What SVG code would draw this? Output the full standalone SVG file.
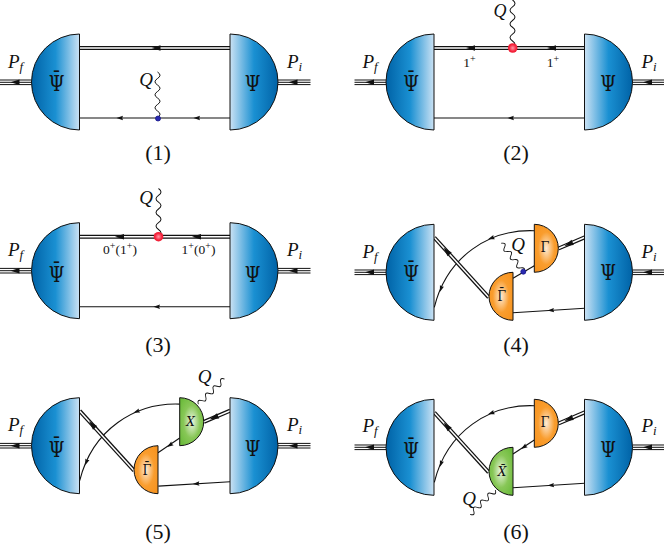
<svg xmlns="http://www.w3.org/2000/svg" width="664" height="548" viewBox="0 0 664 548">
<style>
text{font-family:"Liberation Serif","Times New Roman",serif;fill:#111;text-anchor:middle}
.m{font-style:italic;font-size:19px}
.cap{font-size:22px}
.psi{font-family:"DejaVu Serif",serif;font-size:23px}
.g{font-family:"DejaVu Serif",serif;font-size:15px}
.x{font-family:"DejaVu Serif",serif;font-size:12px;font-style:italic}
.s{font-size:13.500px}
.b{stroke:#111;stroke-width:1}
.l{fill:none;stroke:#111;stroke-width:1.100}
.w{fill:none;stroke:#111;stroke-width:1}
.d1{fill:none;stroke:#111;stroke-width:4}
.d2{fill:none;stroke:#fff;stroke-width:1.500}
.t{fill:none;stroke:#111;stroke-width:1}
</style>
<defs>
<linearGradient id="gl"><stop offset="0" stop-color="#0062a6"/><stop offset=".5" stop-color="#1a90d2"/><stop offset="1" stop-color="#cbe2f4"/></linearGradient>
<linearGradient id="gr"><stop offset="0" stop-color="#cbe2f4"/><stop offset=".5" stop-color="#1a90d2"/><stop offset="1" stop-color="#0062a6"/></linearGradient>
<radialGradient id="go" cx=".5" cy=".5" r=".62"><stop offset="0" stop-color="#fdebd6"/><stop offset=".55" stop-color="#f99d2e"/><stop offset="1" stop-color="#f7931e"/></radialGradient>
<radialGradient id="gg" cx=".5" cy=".5" r=".62"><stop offset="0" stop-color="#eef7e6"/><stop offset=".55" stop-color="#88c757"/><stop offset="1" stop-color="#6cbb3c"/></radialGradient>
<radialGradient id="gv"><stop offset="0" stop-color="#ff9aa8"/><stop offset=".7" stop-color="#f6253f"/><stop offset="1" stop-color="#ee1c30"/></radialGradient>
<path id="lb" class="b" fill="url(#gl)" d="M0-48A48 48 0 0 0 0 48Z"/>
<path id="rb" class="b" fill="url(#gr)" d="M0-48A48 48 0 0 1 0 48Z"/>
<path id="lo" class="b" fill="url(#go)" d="M0-24A24 24 0 0 0 0 24Z"/>
<path id="ro" class="b" fill="url(#go)" d="M0-24A24 24 0 0 1 0 24Z"/>
<path id="lg" class="b" fill="url(#gg)" d="M0-24A24 24 0 0 0 0 24Z"/>
<path id="rg" class="b" fill="url(#gg)" d="M0-24A24 24 0 0 1 0 24Z"/>
<path id="a" fill="#111" d="M-3.500 0L3-2.200Q1.400 0 3 2.200Z"/>
<path id="A" fill="#111" d="M-5 0L4-2.800V2.800Z"/>
<path id="wv" class="w" d="M0 0q3.250-5 6.500 0t6.500 0 6.500 0 6.500 0 6.500 0 6.500 0 6.500 0"/>
<g id="ext">
<path class="t" d="M-79.500-2.300H-48M-79.500 0H-48M-79.500 2.300H-48M198.500-2.300H231M198.500 0H231M198.500 2.300H231"/>
<use href="#A" x="-64"/><use href="#A" x="214"/>
</g>
</defs>
<rect width="664" height="548" fill="#fff"/>
<g id="connectors">
<use href="#ext" x="79.500" y="82.300"/>
<path class="d1" d="M79.500 48H230"/><path class="d2" d="M79.500 48H230"/><use href="#A" x="156.500" y="48"/>
<path class="l" d="M79.500 118H230"/><use href="#a" x="120" y="118"/><use href="#a" x="197" y="118"/>
<use href="#wv" transform="translate(157.500 72) rotate(90)"/>
<use href="#ext" x="434" y="82.300"/>
<path class="d1" d="M434 48H584.500"/><path class="d2" d="M434 48H584.500"/><use href="#A" x="471" y="48"/><use href="#A" x="552" y="48"/>
<path class="l" d="M434 118H584.500"/><use href="#a" x="511" y="118"/>
<use href="#wv" transform="translate(512.500 0) rotate(90) scale(1.050 1)"/>
<use href="#ext" x="79.500" y="270.700"/>
<path class="d1" d="M79.500 236.700H230"/><path class="d2" d="M79.500 236.700H230"/><use href="#A" x="120" y="236.700"/><use href="#A" x="197" y="236.700"/>
<path class="l" d="M79.500 306.700H230"/><use href="#a" x="157" y="306.700"/>
<use href="#wv" transform="translate(158.500 188.500) rotate(90) scale(1.050 1)"/>
<use href="#ext" x="434" y="272.300"/>
<path class="l" d="M534.300 230.700C490 229 447 256 434.300 307.300"/><use href="#a" transform="translate(491.300 238.100) rotate(-20)"/><use href="#a" transform="translate(441 288.600) rotate(-70)"/>
<path class="d1" d="M434.300 237.500L488.700 297.300"/><path class="d2" d="M434.300 237.500L488.700 297.300"/><use href="#A" transform="translate(447 251.500) rotate(48)"/>
<path class="d1" d="M558.500 248.500L584.700 237.300"/><path class="d2" d="M558.500 248.500L584.700 237.300"/><use href="#A" transform="translate(569 244) rotate(-23)"/>
<path class="l" d="M513 312.700L584.700 308.300"/><use href="#a" transform="translate(551 310.300) rotate(-4)"/>
<path class="l" d="M513 278.300L534.300 265.700"/>
<use href="#wv" transform="translate(501.300 243.300) rotate(52) scale(.8 1)"/>
<use href="#ext" x="79.500" y="445.700"/>
<path class="l" d="M179.700 404.100C135.400 402.400 92.400 429.400 79.700 480.700"/><use href="#a" transform="translate(136.700 411.500) rotate(-20)"/><use href="#a" transform="translate(86.400 462) rotate(-70)"/>
<path class="d1" d="M79.700 410.900L134.100 470.700"/><path class="d2" d="M79.700 410.900L134.100 470.700"/><use href="#A" transform="translate(92.400 424.900) rotate(48)"/>
<path class="d1" d="M203.900 421.900L230.100 410.700"/><path class="d2" d="M203.900 421.900L230.100 410.700"/><use href="#A" transform="translate(214.400 417.400) rotate(-23)"/>
<path class="l" d="M158.400 486.100L230.100 481.700"/><use href="#a" transform="translate(196.400 483.700) rotate(-4)"/>
<path class="l" d="M179.700 438L158 452.700"/><use href="#a" transform="translate(170 445) rotate(-34)"/>
<use href="#wv" transform="translate(198.300 404.300) rotate(-44) scale(.8 1)"/>
<use href="#ext" x="434" y="447.300"/>
<path class="l" d="M534.300 405.700C490 404 447 431 434.300 482.300"/><use href="#a" transform="translate(491.300 413.100) rotate(-20)"/><use href="#a" transform="translate(441 463.600) rotate(-70)"/>
<path class="d1" d="M434.300 412.500L488.700 472.300"/><path class="d2" d="M434.300 412.500L488.700 472.300"/><use href="#A" transform="translate(447 426.500) rotate(48)"/>
<path class="d1" d="M558.500 423.500L584.700 412.300"/><path class="d2" d="M558.500 423.500L584.700 412.300"/><use href="#A" transform="translate(569 419) rotate(-23)"/>
<path class="l" d="M513 487.700L584.700 483.300"/><use href="#a" transform="translate(551 485.300) rotate(-4)"/>
<path class="l" d="M534.300 440L513 454"/><use href="#a" transform="translate(524 447) rotate(-34)"/>
<use href="#wv" transform="translate(495.300 490) rotate(136) scale(.77 1)"/>
</g>
<g id="p1-bra"><use href="#lb" x="79.500" y="82"/><text class="psi" transform="translate(56.500 90.500) scale(.78 1)">Ψ<tspan x="0" dy="-4">¯</tspan></text></g>
<g id="p1-ket"><use href="#rb" x="230" y="82"/><text class="psi" transform="translate(252.500 90.500) scale(.78 1)">Ψ</text></g>
<g id="p2-bra"><use href="#lb" x="434" y="82"/><text class="psi" transform="translate(411 90.500) scale(.78 1)">Ψ<tspan x="0" dy="-4">¯</tspan></text></g>
<g id="p2-ket"><use href="#rb" x="584.500" y="82"/><text class="psi" transform="translate(608 90.500) scale(.78 1)">Ψ</text></g>
<g id="p3-bra"><use href="#lb" x="79.500" y="270.700"/><text class="psi" transform="translate(56.500 281.500) scale(.78 1)">Ψ<tspan x="0" dy="-4">¯</tspan></text></g>
<g id="p3-ket"><use href="#rb" x="230" y="270.700"/><text class="psi" transform="translate(252.500 281.500) scale(.78 1)">Ψ</text></g>
<g id="p4-bra"><use href="#lb" x="434" y="272.300"/><text class="psi" transform="translate(411 281) scale(.78 1)">Ψ<tspan x="0" dy="-4">¯</tspan></text></g>
<g id="p4-ket"><use href="#rb" x="584.500" y="272.300"/><text class="psi" transform="translate(608 280) scale(.78 1)">Ψ</text></g>
<g id="p4-g"><use href="#ro" x="534.300" y="248.300"/><text class="g" transform="translate(545 252) scale(.85 1)">Γ</text></g>
<g id="p4-gb"><use href="#lo" x="513" y="296.300"/><text class="g" transform="translate(501.700 301) scale(.85 1)">Γ<tspan x="0" dy="-3">¯</tspan></text></g>
<g id="p5-bra"><use href="#lb" x="79.500" y="445.700"/><text class="psi" transform="translate(56.500 457) scale(.78 1)">Ψ<tspan x="0" dy="-4">¯</tspan></text></g>
<g id="p5-ket"><use href="#rb" x="230" y="445.700"/><text class="psi" transform="translate(252.500 456) scale(.78 1)">Ψ</text></g>
<g id="p5-x"><use href="#rg" x="179.700" y="421.700"/><text class="x" x="190.500" y="425.500">X</text></g>
<g id="p5-gb"><use href="#lo" x="158" y="469.700"/><text class="g" transform="translate(147 474.500) scale(.85 1)">Γ<tspan x="0" dy="-3">¯</tspan></text></g>
<g id="p6-bra"><use href="#lb" x="434" y="447.300"/><text class="psi" transform="translate(411 457.500) scale(.78 1)">Ψ<tspan x="0" dy="-4">¯</tspan></text></g>
<g id="p6-ket"><use href="#rb" x="584.500" y="447.300"/><text class="psi" transform="translate(608 456.500) scale(.78 1)">Ψ</text></g>
<g id="p6-g"><use href="#ro" x="534.300" y="423.300"/><text class="g" transform="translate(545 427) scale(.85 1)">Γ</text></g>
<g id="p6-xb"><use href="#lg" x="513" y="471.300"/><text class="x" x="502" y="476">X̄</text></g>
<g id="vertices">
<circle cx="158" cy="118.500" r="2.500" fill="#2a2ab0" stroke="#14148a" stroke-width=".8"/>
<circle cx="512.700" cy="48" r="4.800" fill="url(#gv)"/>
<circle cx="158.500" cy="236.700" r="4.800" fill="url(#gv)"/>
<circle cx="523.300" cy="271.700" r="2.500" fill="#2a2ab0" stroke="#14148a" stroke-width=".8"/>
</g>
<g id="labels">
<text class="m" x="15.500" y="68">P<tspan font-size="13" dy="3">f</tspan></text>
<text class="m" x="294.500" y="68">P<tspan font-size="13" dy="3">i</tspan></text>
<text class="m" x="370" y="68">P<tspan font-size="13" dy="3">f</tspan></text>
<text class="m" x="649" y="68">P<tspan font-size="13" dy="3">i</tspan></text>
<text class="m" x="15.500" y="256">P<tspan font-size="13" dy="3">f</tspan></text>
<text class="m" x="294.500" y="256">P<tspan font-size="13" dy="3">i</tspan></text>
<text class="m" x="370" y="258">P<tspan font-size="13" dy="3">f</tspan></text>
<text class="m" x="649" y="258">P<tspan font-size="13" dy="3">i</tspan></text>
<text class="m" x="15.500" y="431">P<tspan font-size="13" dy="3">f</tspan></text>
<text class="m" x="294.500" y="431">P<tspan font-size="13" dy="3">i</tspan></text>
<text class="m" x="370" y="432">P<tspan font-size="13" dy="3">f</tspan></text>
<text class="m" x="649" y="432">P<tspan font-size="13" dy="3">i</tspan></text>
<text class="m" x="146" y="86">Q</text>
<text class="m" x="500" y="17" style="font-size:18px">Q</text>
<text class="m" x="146" y="204">Q</text>
<text class="m" x="518" y="251">Q</text>
<text class="m" x="204.500" y="383">Q</text>
<text class="m" x="469" y="505">Q</text>
<text class="s" x="469.500" y="66.500">1<tspan font-size="10" dy="-5">+</tspan></text>
<text class="s" x="553" y="66.500">1<tspan font-size="10" dy="-5">+</tspan></text>
<text class="s" x="120" y="254">0<tspan font-size="10" dy="-5">+</tspan><tspan dy="5">(1</tspan><tspan font-size="10" dy="-5">+</tspan><tspan dy="5">)</tspan></text>
<text class="s" x="198.500" y="254">1<tspan font-size="10" dy="-5">+</tspan><tspan dy="5">(0</tspan><tspan font-size="10" dy="-5">+</tspan><tspan dy="5">)</tspan></text>
<text class="cap" x="158" y="160">(1)</text>
<text class="cap" x="516" y="160">(2)</text>
<text class="cap" x="158" y="351.500">(3)</text>
<text class="cap" x="516" y="351.500">(4)</text>
<text class="cap" x="158" y="538.500">(5)</text>
<text class="cap" x="516" y="538.500">(6)</text>
</g>
</svg>
